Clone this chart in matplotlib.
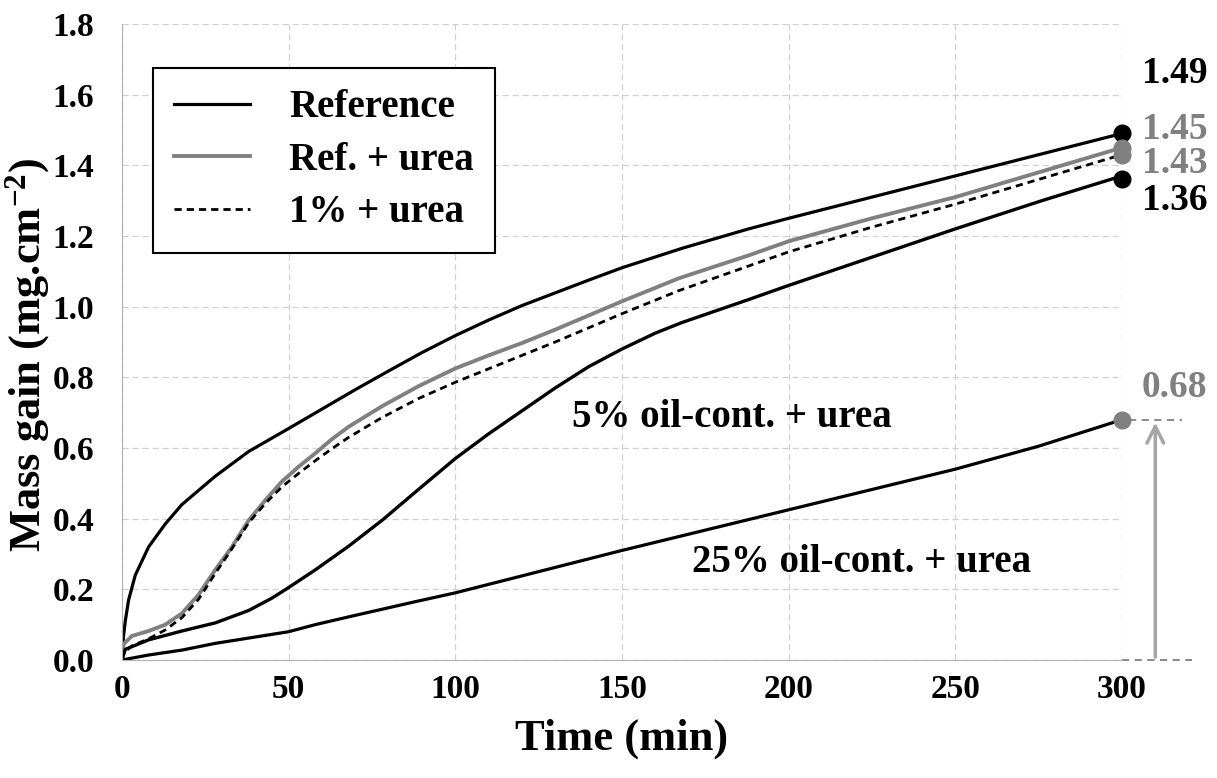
import matplotlib
matplotlib.use("Agg")
import matplotlib.pyplot as plt

# data (time in min, mass gain in mg/cm2)
t_ref = [0, 0.5, 1, 2, 4, 8, 13, 18, 28, 38, 50, 60, 70, 80, 90, 100, 110, 120, 140, 150, 168, 188, 200, 225, 250,
         275, 300]
m_ref = [0, 0.07, 0.11, 0.17, 0.24, 0.32, 0.385, 0.44, 0.52, 0.59, 0.655, 0.71, 0.765, 0.818, 0.87, 0.918, 0.962,
         1.003, 1.075, 1.11, 1.165, 1.22, 1.25, 1.31, 1.37, 1.43, 1.49]

t_urea = [0, 0.5, 3, 8, 13, 18, 23, 28, 33, 38, 43, 48, 53, 58, 63, 68, 78, 89, 100, 110, 120, 130, 140, 150, 167,
          188, 200, 225, 250, 275, 300]
m_ref_urea = [0, 0.045, 0.068, 0.082, 0.10, 0.132, 0.185, 0.255, 0.32, 0.395, 0.452, 0.505, 0.547, 0.585, 0.625,
              0.66, 0.718, 0.775, 0.825, 0.862, 0.897, 0.935, 0.975, 1.015, 1.08, 1.145, 1.185, 1.25, 1.31, 1.38,
              1.45]
m_1pc_urea = [0, 0.02, 0.04, 0.06, 0.085, 0.12, 0.172, 0.245, 0.315, 0.388, 0.443, 0.49, 0.528, 0.564, 0.598, 0.63,
              0.686, 0.74, 0.786, 0.824, 0.862, 0.90, 0.94, 0.98, 1.045, 1.115, 1.155, 1.225, 1.29, 1.36, 1.43]

t_5pc = [0, 1, 8, 18, 28, 38, 45, 50, 58, 68, 78, 88, 100, 110, 120, 130, 140, 150, 160, 168, 188, 200, 225, 250,
         276, 300]
m_5pc = [0, 0.03, 0.057, 0.082, 0.105, 0.14, 0.175, 0.205, 0.255, 0.322, 0.395, 0.475, 0.57, 0.64, 0.705, 0.77, 0.83,
         0.88, 0.925, 0.955, 1.02, 1.06, 1.14, 1.22, 1.30, 1.37]

t_25pc = [0, 8, 18, 28, 50, 58, 68, 88, 100, 150, 200, 250, 275, 300]
m_25pc = [0, 0.014, 0.028, 0.047, 0.08, 0.1, 0.122, 0.165, 0.19, 0.31, 0.425, 0.54, 0.605, 0.68]

end_vals = [1.49, 1.45, 1.43, 1.36, 0.68]
end_cols = ['black', 'grey', 'grey', 'black', 'grey']
end_text = ['1.49', '1.45', '1.43', '1.36', '0.68']
text_y = [1.66, 1.50, 1.405, 1.30, 0.77]

plt.rcParams['font.family'] = ['Liberation Serif', 'DejaVu Serif']
plt.rcParams['font.weight'] = 'bold'
plt.rcParams['mathtext.fontset'] = 'custom'
plt.rcParams['mathtext.rm'] = 'Liberation Serif:bold'
plt.rcParams['mathtext.bf'] = 'Liberation Serif:bold'

fig = plt.figure(figsize=(12.17, 7.78), dpi=100)
ax = fig.add_axes([0.1002, 0.1517, 0.8217, 0.8175])

gray = '#808080'
ax.plot(t_ref, m_ref, color='black', lw=2.3, label='Reference')
ax.plot(t_urea, m_ref_urea, color=gray, lw=2.8, label='Ref. + urea')
ax.plot(t_urea, m_1pc_urea, color='black', lw=2.0, ls=(0, (2.6, 1.8)), label='1% + urea')
ax.plot(t_5pc, m_5pc, color='black', lw=2.4)
ax.plot(t_25pc, m_25pc, color='black', lw=2.3)

for v, c in zip(end_vals, end_cols):
    ax.plot([300], [v], 'o', color=c, ms=12, clip_on=False, zorder=5)
for s, yy, c in zip(end_text, text_y, end_cols):
    ax.text(306, yy, s, color=c, fontsize=27, fontweight='bold', va='center', ha='left', clip_on=False)

# arrow and dashed guides for the 25% curve
ax.plot([302, 318], [0.68, 0.68], color=gray, ls=(0, (4, 3)), lw=1.3, clip_on=False)
ax.plot([300, 321], [0, 0], color=gray, ls=(0, (4, 3)), lw=1.3, clip_on=False)
ax.annotate('', xy=(310, 0.68), xytext=(310, 0), annotation_clip=False,
            arrowprops=dict(arrowstyle='->', color='#a6a6a6', lw=2.5, mutation_scale=30))

ax.text(135, 0.685, '5% oil-cont. + urea', fontsize=28, fontweight='bold', va='center', ha='left')
ax.text(171, 0.275, '25% oil-cont. + urea', fontsize=28, fontweight='bold', va='center', ha='left')

ax.set_xlim(0, 300)
ax.set_ylim(0, 1.8)
ax.set_xticks(range(0, 301, 50))
ax.set_yticks([i * 0.2 for i in range(10)])
ax.set_yticklabels(['%.1f' % (i * 0.2) for i in range(10)])
ax.tick_params(labelsize=24, length=0)
ax.tick_params(axis='y', pad=20)
ax.tick_params(axis='x', pad=10)
ax.grid(True, color='#d0d0d0', ls=(0, (5, 3)), lw=0.9)
for side in ['top', 'right']:
    ax.spines[side].set_visible(False)
for side in ['left', 'bottom']:
    ax.spines[side].set_color('#b0b0b0')

ax.set_xlabel('Time (min)', fontsize=32, fontweight='bold', labelpad=10)
ax.set_ylabel('Mass gain (mg.cm$\\mathbf{^{-2}}$)', fontsize=32, fontweight='bold')
ax.yaxis.set_label_coords(-0.07, 0.48)

leg = ax.legend(loc='upper left', bbox_to_anchor=(0.031, 0.931), borderaxespad=0, fontsize=28, frameon=True,
                fancybox=False, edgecolor='black', handlelength=1.95, handletextpad=1.0, borderpad=0.55,
                labelspacing=0.4)
leg.get_frame().set_linewidth(1.5)
leg.get_frame().set_alpha(1)

fig.savefig('out.png', dpi=100)
